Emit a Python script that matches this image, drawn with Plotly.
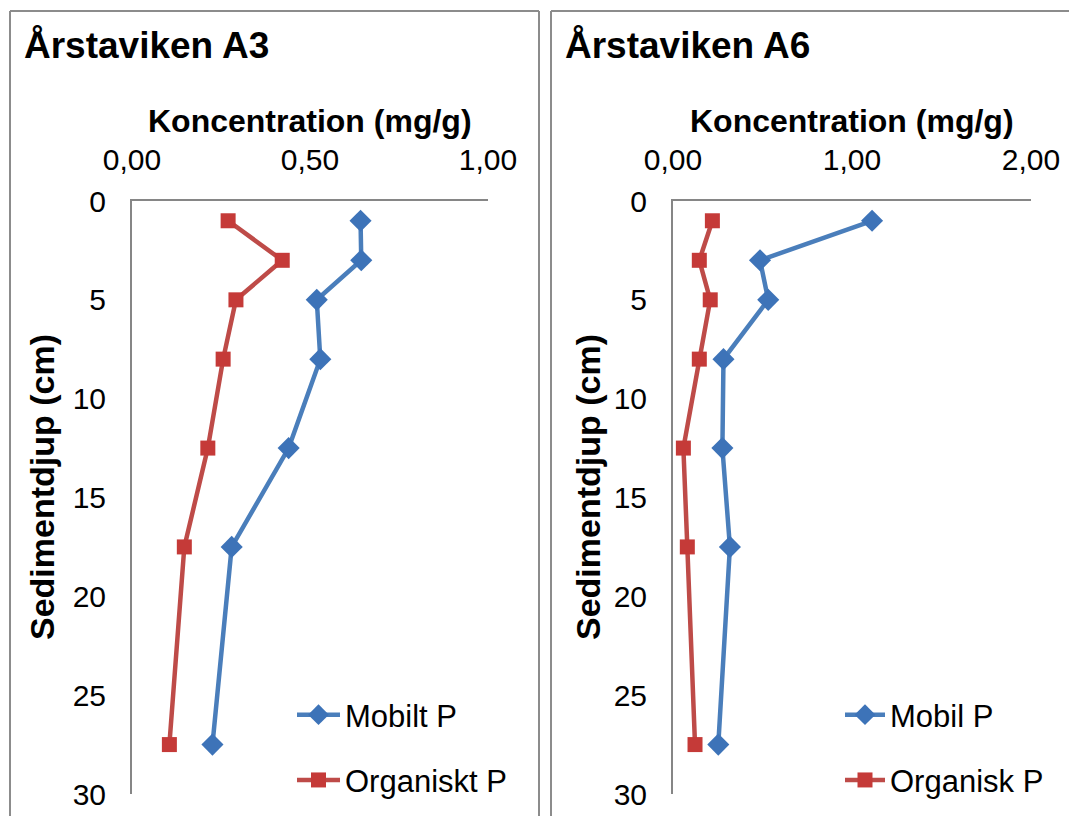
import plotly.graph_objects as go

# ---- data ----
depth = [1, 3, 5, 8, 12.5, 17.5, 27.5]
a3_mobilt = [0.642, 0.644, 0.519, 0.529, 0.440, 0.280, 0.226]
a3_organiskt = [0.270, 0.422, 0.292, 0.256, 0.213, 0.147, 0.105]
a6_mobil = [1.112, 0.486, 0.532, 0.282, 0.276, 0.318, 0.253]
a6_organisk = [0.220, 0.147, 0.208, 0.147, 0.058, 0.080, 0.123]

panel_titles = ["Årstaviken A3", "Årstaviken A6"]
x_title = "Koncentration (mg/g)"
y_title = "Sedimentdjup (cm)"
a3_names = ["Mobilt P", "Organiskt P"]
a6_names = ["Mobil P", "Organisk P"]
y_ticks = [0, 5, 10, 15, 20, 25, 30]
a3_xticks = [0.0, 0.5, 1.0]
a6_xticks = [0.0, 1.0, 2.0]

W, H = 1069, 816
def px(x):
    return x / W
def py(y):
    return 1 - y / H

BLUE = "#4A7EBB"
BLUE_M = "#3D73B8"
RED = "#BE4B48"
RED_M = "#C53A38"
GRAY = "#868686"
FONT = "Liberation Sans, Arial, sans-serif"

fig = go.Figure()

def add_series(xv, name, color, mcolor, symbol, msize, xa, ya, leg, grp):
    fig.add_trace(go.Scatter(
        x=xv, y=depth, name=name, mode="lines+markers",
        line=dict(color=color, width=4.5),
        marker=dict(color=mcolor, symbol=symbol, size=msize,
                    line=dict(width=0)),
        xaxis=xa, yaxis=ya, legend=leg, legendgroup=grp,
    ))

add_series(a3_mobilt, a3_names[0], BLUE, BLUE_M, "diamond", 17, "x", "y", "legend", "a")
add_series(a3_organiskt, a3_names[1], RED, RED_M, "square", 15, "x", "y", "legend", "b")
add_series(a6_mobil, a6_names[0], BLUE, BLUE_M, "diamond", 17, "x2", "y2", "legend2", "c")
add_series(a6_organisk, a6_names[1], RED, RED_M, "square", 15, "x2", "y2", "legend2", "d")

ydom = [py(794), py(201)]
tickfont = dict(family=FONT, size=30, color="#000")

def xaxis_cfg(dom, rng, ticks):
    return dict(
        domain=dom, range=rng, side="top", tickvals=ticks,
        tickformat=".2f", showgrid=False, zeroline=False,
        showline=True, linecolor=GRAY, linewidth=2,
        ticks="", tickfont=tickfont, ticklabelstandoff=17,
        fixedrange=True, automargin=False,
    )

def yaxis_cfg(anchor):
    return dict(
        domain=ydom, range=[30, 0], tickvals=y_ticks,
        showgrid=False, zeroline=False,
        showline=True, linecolor=GRAY, linewidth=2,
        ticks="", tickfont=tickfont, ticklabelstandoff=18,
        anchor=anchor, fixedrange=True, automargin=False,
    )

legfont = dict(family=FONT, size=31, color="#000")

fig.update_layout(
    width=W, height=H,
    margin=dict(l=0, r=0, t=0, b=0, pad=0, autoexpand=False),
    paper_bgcolor="white", plot_bgcolor="white",
    separators=", ",
    showlegend=True,
    xaxis=xaxis_cfg([px(132), px(488)], [0, 1], a3_xticks),
    yaxis=yaxis_cfg("x"),
    xaxis2=xaxis_cfg([px(673), px(1031)], [0, 2], a6_xticks),
    yaxis2=yaxis_cfg("x2"),
    legend=dict(x=px(292), y=py(688), xanchor="left", yanchor="top",
                bgcolor="rgba(0,0,0,0)", font=legfont,
                tracegroupgap=22, itemwidth=43),
    legend2=dict(x=px(840), y=py(688), xanchor="left", yanchor="top",
                 bgcolor="rgba(0,0,0,0)", font=legfont,
                 tracegroupgap=22, itemwidth=40),
)

annotations = []
for t, x in zip(panel_titles, [22, 563]):
    annotations.append(dict(
        text="<b>" + t + "</b>", x=px(x), y=py(45), xref="paper", yref="paper",
        xanchor="left", yanchor="middle", showarrow=False,
        font=dict(family=FONT, size=37, color="#000")))
for cx in [310, 852]:
    annotations.append(dict(
        text="<b>" + x_title + "</b>", x=px(cx), y=py(121), xref="paper", yref="paper",
        xanchor="center", yanchor="middle", showarrow=False,
        font=dict(family=FONT, size=32, color="#000")))
for cx in [42, 588]:
    annotations.append(dict(
        text="<b>" + y_title + "</b>", x=px(cx), y=py(487), xref="paper", yref="paper",
        xanchor="center", yanchor="middle", showarrow=False, textangle=-90,
        font=dict(family=FONT, size=34, color="#000")))
fig.update_layout(annotations=annotations)

shapes = []
border = dict(color="#8C8C8C", width=2)
# left panel
shapes.append(dict(type="line", xref="paper", yref="paper", x0=px(10), x1=px(10), y0=-0.05, y1=py(11), line=border))
shapes.append(dict(type="line", xref="paper", yref="paper", x0=px(10), x1=px(539), y0=py(11), y1=py(11), line=border))
shapes.append(dict(type="line", xref="paper", yref="paper", x0=px(539), x1=px(539), y0=-0.05, y1=py(11), line=border))
# right panel
shapes.append(dict(type="line", xref="paper", yref="paper", x0=px(551), x1=px(551), y0=-0.05, y1=py(11), line=border))
shapes.append(dict(type="line", xref="paper", yref="paper", x0=px(551), x1=1.05, y0=py(11), y1=py(11), line=border))
fig.update_layout(shapes=shapes)

fig.write_html("out.html")
